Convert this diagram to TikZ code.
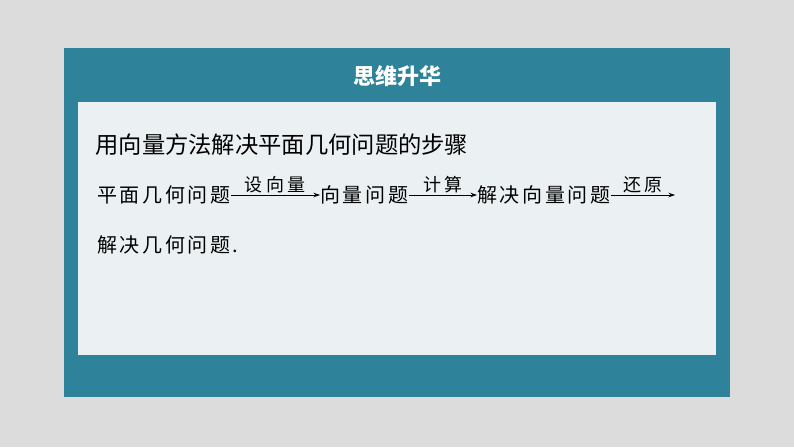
\documentclass[tikz,border=0pt]{standalone}
\usepackage{fontspec}
\setmainfont{Noto Sans CJK SC}
\newfontfamily\stepfont[LetterSpace=13]{Noto Sans CJK SC}
\newfontfamily\labelfont[LetterSpace=20]{Noto Sans CJK SC}
\usetikzlibrary{calc,arrows.meta}
\definecolor{pagegray}{RGB}{220,220,220}
\definecolor{frameteal}{RGB}{46,131,155}
\definecolor{cardbg}{RGB}{235,241,243}

\begin{document}
\begin{tikzpicture}[x=1pt,y=-1pt,line width=0.8pt,>={Stealth[length=6.5pt,width=4.5pt]},
	steptext/.style={anchor=west,inner sep=0pt,text height=15pt,text depth=0pt,font=\stepfont\fontsize{20}{20}\selectfont},
	arrowlabel/.style={above=3pt,inner sep=0pt,text height=13.5pt,text depth=0pt,font=\labelfont\fontsize{18}{18}\selectfont}]
% page and frame
\fill [pagegray] (0,0) rectangle (794,447);
\fill [frameteal] (64,48) rectangle (730,397);
\fill [cardbg] (78,102) rectangle (716,355);
\node [white,font=\bfseries\fontsize{22}{22}\selectfont] (title) at (397,76) {思维升华};

%heading
\node [anchor=west,inner sep=0pt,font=\fontsize{23.3}{23.3}\selectfont] (head) at (95,145) {用向量方法解决平面几何问题的步骤};

%steps
\node [steptext] (pm) at (97,195) {平面几何问题};
\node [steptext] (xl) at (320,195) {向量问题};
\node [steptext] (jj) at (477,195) {解决向量问题};
\coordinate (end) at (675,195);
\node [steptext] (jh) at (97,245) {解决几何问题.};

\draw [->] (pm.east)--(xl.west) node[midway,arrowlabel]{设向量};
\draw [->] (xl.east)--(jj.west) node[midway,arrowlabel]{计算};
\draw [->] (jj.east)--(end) node[midway,arrowlabel]{还原};
\end{tikzpicture}
\end{document}
